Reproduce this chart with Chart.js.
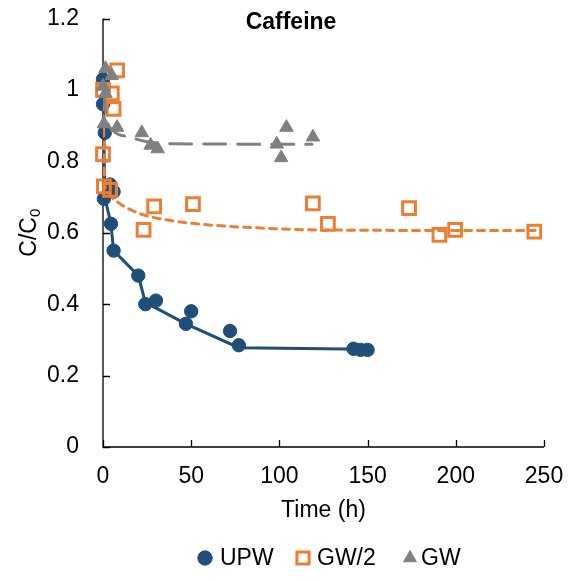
<!DOCTYPE html>
<html>
<head>
<meta charset="utf-8">
<script src="https://cdn.jsdelivr.net/npm/chart.js@4"></script>
<style>
  html, body { margin: 0; padding: 0; background: #fff; }
  #wrap { width: 575px; height: 581px; }
</style>
</head>
<body>
<div id="wrap"><canvas id="chart" width="575" height="581"></canvas></div>
<script>
// measured points
const upwTime  = [0, 0, 1, 4, 6, 0.5, 4.5, 6, 20, 24, 30, 47, 50, 72, 77, 142, 146, 150];
const upwValue = [1.03, 0.96, 0.88, 0.735, 0.715, 0.695, 0.625, 0.55, 0.48, 0.40, 0.41, 0.345, 0.38, 0.325, 0.285, 0.275, 0.272, 0.272];

const gw2Time  = [0, 5, 8, 6, 0, 0.5, 4, 23, 29, 51, 119, 127.5, 173.5, 190.7, 199.6, 244.5];
const gw2Value = [1.0, 0.99, 1.055, 0.947, 0.82, 0.73, 0.72, 0.608, 0.674, 0.68, 0.682, 0.625, 0.669, 0.594, 0.608, 0.603];

const gwTime  = [1.4, 5, 0, 1.4, 0.5, 8, 22, 27, 31, 98.5, 101, 104, 119];
const gwValue = [1.06, 1.04, 1.01, 0.99, 0.905, 0.895, 0.88, 0.845, 0.835, 0.848, 0.81, 0.895, 0.868];

// fitted curves
const upwFitTime  = [0, 0.5, 1, 4.5, 6, 20, 24, 47, 77, 150];
const upwFitValue = [1.0, 0.88, 0.70, 0.625, 0.55, 0.48, 0.405, 0.345, 0.278, 0.274];

const gw2FitTime  = [0, 1, 2, 5, 10, 20, 40, 60, 90, 120, 245];
const gw2FitValue = [1.0, 0.74, 0.72, 0.70, 0.68, 0.655, 0.633, 0.622, 0.613, 0.608, 0.606];

const gwFitTime  = [0, 2, 6, 15, 25, 40, 118.5];
const gwFitValue = [1.0, 0.92, 0.885, 0.868, 0.855, 0.849, 0.848];

const seriesNames = ["UPW", "GW/2", "GW"];
const xTickValues = [0, 50, 100, 150, 200, 250];
const yTickValues = [0, 0.2, 0.4, 0.6, 0.8, 1, 1.2];

const FONT = "'Liberation Sans', Arial, sans-serif";
const BLUE = "#1F4E79", ORANGE = "#ED7D31", GRAY = "#808080";

const pts = (xs, ys) => xs.map((x, i) => ({ x: x, y: ys[i] }));

// inward ticks + axis lines
const axisTicks = {
  id: "axisTicks",
  beforeDatasetsDraw(chart) {
    const { ctx, scales: { x, y } } = chart;
    ctx.save();
    ctx.strokeStyle = "#000";
    ctx.lineWidth = 1.3;
    ctx.beginPath();
    ctx.moveTo(x.left, y.top);
    ctx.lineTo(x.left, y.bottom);
    ctx.lineTo(x.right, y.bottom);
    xTickValues.forEach(v => {
      const px = Math.round(x.getPixelForValue(v)) + 0.5;
      ctx.moveTo(px, y.bottom);
      ctx.lineTo(px, y.bottom - 7);
    });
    yTickValues.forEach(v => {
      const py = Math.round(y.getPixelForValue(v)) + 0.5;
      ctx.moveTo(x.left, py);
      ctx.lineTo(x.left + 7, py);
    });
    ctx.stroke();
    ctx.restore();
  }
};

// title, axis titles, legend
const decorations = {
  id: "decorations",
  afterDraw(chart) {
    const { ctx, scales: { x, y } } = chart;
    ctx.save();
    ctx.fillStyle = "#000";

    ctx.font = "bold 23px " + FONT;
    ctx.textAlign = "center";
    ctx.textBaseline = "alphabetic";
    ctx.fillText("Caffeine", 291, 28.5);

    ctx.font = "23px " + FONT;
    ctx.textBaseline = "middle";
    ctx.fillText("Time (h)", (x.left + x.right) / 2, 511);

    // C/C0 rotated
    ctx.save();
    ctx.translate(30, (y.top + y.bottom) / 2);
    ctx.rotate(-Math.PI / 2);
    ctx.font = "23px " + FONT;
    const main = "C/C";
    const wMain = ctx.measureText(main).width;
    ctx.font = "15px " + FONT;
    const wSub = ctx.measureText("0").width;
    const start = -(wMain + wSub) / 2;
    ctx.textAlign = "left";
    ctx.font = "23px " + FONT;
    ctx.fillText(main, start, 0);
    ctx.font = "15px " + FONT;
    ctx.fillText("0", start + wMain, 6);
    ctx.restore();

    // legend
    const legendY = 558;
    const items = [
      { marker: 205, text: 220, ds: 3 },
      { marker: 303, text: 317, ds: 4 },
      { marker: 410, text: 421, ds: 5 }
    ];
    ctx.font = "23px " + FONT;
    ctx.textAlign = "left";
    ctx.textBaseline = "middle";
    items.forEach((it, i) => {
      const d = chart.data.datasets[it.ds];
      ctx.fillStyle = d.pointBackgroundColor;
      ctx.strokeStyle = d.pointBorderColor;
      ctx.lineWidth = d.pointBorderWidth;
      Chart.helpers.drawPoint(ctx, {
        pointStyle: d.pointStyle,
        radius: d.legendRadius,
        borderWidth: d.pointBorderWidth,
        rotation: 0
      }, it.marker, legendY);
      ctx.fillStyle = "#000";
      ctx.fillText(seriesNames[i], it.text, legendY + 1);
    });
    ctx.restore();
  }
};

new Chart(document.getElementById("chart"), {
  type: "scatter",
  data: {
    datasets: [
      {
        label: "UPW fit", data: pts(upwFitTime, upwFitValue), showLine: true,
        borderColor: BLUE, borderWidth: 3, pointRadius: 0, tension: 0, order: 6
      },
      {
        label: "GW/2 fit", data: pts(gw2FitTime, gw2FitValue), showLine: true,
        borderColor: ORANGE, borderWidth: 3, borderDash: [7, 6], borderCapStyle: "round",
        pointRadius: 0, cubicInterpolationMode: "monotone", order: 4
      },
      {
        label: "GW fit", data: pts(gwFitTime, gwFitValue), showLine: true,
        borderColor: GRAY, borderWidth: 3, borderDash: [22, 12], borderCapStyle: "round",
        pointRadius: 0, cubicInterpolationMode: "monotone", order: 2
      },
      {
        label: seriesNames[0], data: pts(upwTime, upwValue), pointStyle: "circle",
        pointRadius: 6.7, pointBackgroundColor: BLUE, pointBorderColor: BLUE,
        pointBorderWidth: 1, legendRadius: 7.2, clip: false, order: 5
      },
      {
        label: seriesNames[1], data: pts(gw2Time, gw2Value), pointStyle: "rect",
        pointRadius: 9, pointBackgroundColor: "rgba(255,255,255,0)", pointBorderColor: ORANGE,
        pointBorderWidth: 3, legendRadius: 8.6, clip: false, order: 3
      },
      {
        label: seriesNames[2], data: pts(gwTime, gwValue), pointStyle: "triangle",
        pointRadius: 7.8, pointBackgroundColor: GRAY, pointBorderColor: GRAY,
        pointBorderWidth: 1, legendRadius: 7.5, clip: false, order: 1
      }
    ]
  },
  options: {
    responsive: false,
    animation: false,
    events: [],
    layout: { padding: { left: 0, right: 31, top: 18.5, bottom: 0 } },
    plugins: { legend: { display: false }, tooltip: { enabled: false }, title: { display: false } },
    scales: {
      x: {
        type: "linear", min: 0, max: 250,
        grid: { display: false, drawTicks: false },
        border: { display: false },
        ticks: {
          stepSize: 50, padding: 16, color: "#000",
          font: { family: FONT, size: 23 }
        },
        afterFit(scale) {
          scale.height = 134;
          scale.paddingLeft = 0;
          scale.paddingRight = 0;
        }
      },
      y: {
        type: "linear", min: 0, max: 1.2,
        grid: { display: false, drawTicks: false },
        border: { display: false },
        ticks: {
          stepSize: 0.2, padding: 24, color: "#000",
          font: { family: FONT, size: 23 },
          callback: (v) => String(Number(v.toFixed(1)))
        },
        afterFit(scale) {
          scale.width = 103;
          scale.paddingTop = 0;
          scale.paddingBottom = 0;
        }
      }
    }
  },
  plugins: [axisTicks, decorations]
});
</script>
</body>
</html>
